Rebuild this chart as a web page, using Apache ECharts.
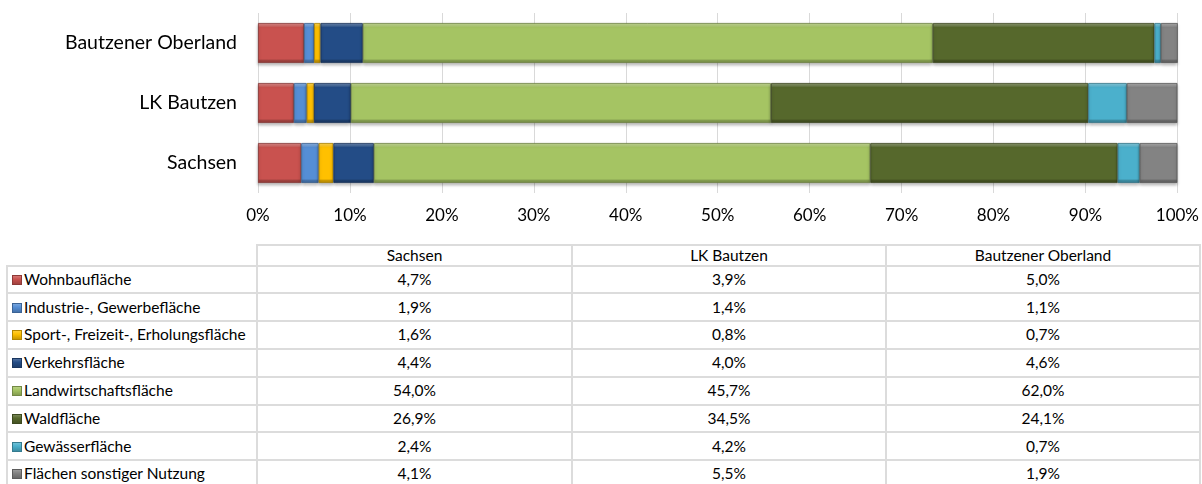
<!DOCTYPE html>
<html>
<head>
<meta charset="utf-8">
<script src="https://cdn.jsdelivr.net/npm/echarts@6/dist/echarts.min.js"></script>
<style>
  body { margin: 0; background: #fff; font-family: Lato, 'Open Sans', sans-serif; }
  #wrap { position: relative; width: 1202px; height: 484px; overflow: hidden; }
  #chart { position: absolute; left: 0; top: 0; width: 1202px; height: 240px; }
  #table { position: absolute; left: 6px; top: 244px; border-collapse: collapse; table-layout: fixed; font-size: 15.5px; line-height: 1; color: #000; }
  #table td { border: 2px solid #dcdcdc; padding: 0; text-align: center; white-space: nowrap; overflow: hidden; }
  #table tr.head td { height: 18.7px; }
  #table tr.row td { height: 25.8px; }
  #table td.empty { border: none; }
  #table td.name { text-align: left; padding-left: 4px; }
  .sw { display: inline-block; width: 10px; height: 10px; margin-right: 2px; vertical-align: 0px; box-sizing: border-box; }
</style>
</head>
<body>
<div id="wrap">
  <div id="chart"></div>
  <table id="table"></table>
</div>
<script>
// Gebiete (von unten nach oben im Diagramm)
const regions = ['Sachsen', 'LK Bautzen', 'Bautzener Oberland']
const categories = [
  'Wohnbaufläche',
  'Industrie-, Gewerbefläche',
  'Sport-, Freizeit-, Erholungsfläche',
  'Verkehrsfläche',
  'Landwirtschaftsfläche',
  'Waldfläche',
  'Gewässerfläche',
  'Flächen sonstiger Nutzung'
]
// Anteile in %, je Gebiet
const sachsen = [4.7, 1.9, 1.6, 4.4, 54.0, 26.9, 2.4, 4.1]
const lkBautzen = [3.9, 1.4, 0.8, 4.0, 45.7, 34.5, 4.2, 5.5]
const oberland = [5.0, 1.1, 0.7, 4.6, 62.0, 24.1, 0.7, 1.9]
const xTicks = [0, 10, 20, 30, 40, 50, 60, 70, 80, 90, 100]

const colors = ['#C9524F', '#558ED5', '#FFC000', '#234C86', '#A5C463', '#56682C', '#4BB0CC', '#838383']

function shade (hex, f) {
  let n = parseInt(hex.slice(1), 16)
  let r = (n >> 16) & 255, g = (n >> 8) & 255, b = n & 255
  let fix = v => Math.max(0, Math.min(255, Math.round(f > 0 ? v + (255 - v) * f : v * (1 + f))))
  return 'rgb(' + fix(r) + ',' + fix(g) + ',' + fix(b) + ')'
}

function bevel (c) {
  return {
    type: 'linear', x: 0, y: 0, x2: 0, y2: 1,
    colorStops: [
      { offset: 0, color: shade(c, 0.3) },
      { offset: 0.08, color: shade(c, 0.15) },
      { offset: 0.1, color: c },
      { offset: 0.9, color: c },
      { offset: 0.93, color: shade(c, -0.2) },
      { offset: 1, color: shade(c, -0.3) }
    ]
  }
}

const seriesData = categories.map((name, i) => [sachsen[i], lkBautzen[i], oberland[i]])

const myChart = echarts.init(document.getElementById('chart'))
myChart.setOption({
  animation: false,
  textStyle: { fontFamily: 'Lato, sans-serif' },
  grid: { left: 258, right: 24, top: 13, height: 180 },
  xAxis: {
    type: 'value',
    min: 0,
    max: 100,
    interval: 10,
    axisLine: { show: false },
    axisTick: { show: false },
    splitLine: { lineStyle: { color: '#d9d9d9', width: 1 } },
    axisLabel: {
      color: '#000',
      fontSize: 17,
      margin: 14,
      formatter: v => xTicks.indexOf(v) >= 0 ? v + '%' : ''
    }
  },
  yAxis: {
    type: 'category',
    data: regions,
    axisLine: { show: false },
    axisTick: { show: false },
    axisLabel: { color: '#000', fontSize: 19.5, margin: 21 }
  },
  series: categories.map((name, i) => ({
    name: name,
    type: 'bar',
    stack: 'total',
    barWidth: 40,
    data: seriesData[i],
    itemStyle: {
      color: bevel(colors[i]),
      borderColor: shade(colors[i], -0.35),
      borderWidth: 0.8,
      shadowColor: 'rgba(0,0,0,0.25)',
      shadowBlur: 3,
      shadowOffsetY: 2
    }
  }))
})

// Datentabelle unter dem Diagramm
const fmt = v => v.toFixed(1).replace('.', ',') + '%'
const colW = [250, 315, 314, 314]
let html = '<colgroup>' + colW.map(w => '<col style="width:' + w + 'px">').join('') + '</colgroup>'
html += '<tr class="head"><td class="empty"></td>' + regions.map(r => '<td>' + r + '</td>').join('') + '</tr>'
categories.forEach((name, i) => {
  let c = colors[i]
  let sw = '<span class="sw" style="background:linear-gradient(' + shade(c, 0.2) + ',' + c + ' 40%,' + shade(c, -0.2) + ');border:1px solid ' + shade(c, -0.3) + '"></span>'
  html += '<tr class="row"><td class="name">' + sw + name + '</td>' +
    '<td>' + fmt(sachsen[i]) + '</td><td>' + fmt(lkBautzen[i]) + '</td><td>' + fmt(oberland[i]) + '</td></tr>'
})
document.getElementById('table').innerHTML = html
</script>
</body>
</html>
